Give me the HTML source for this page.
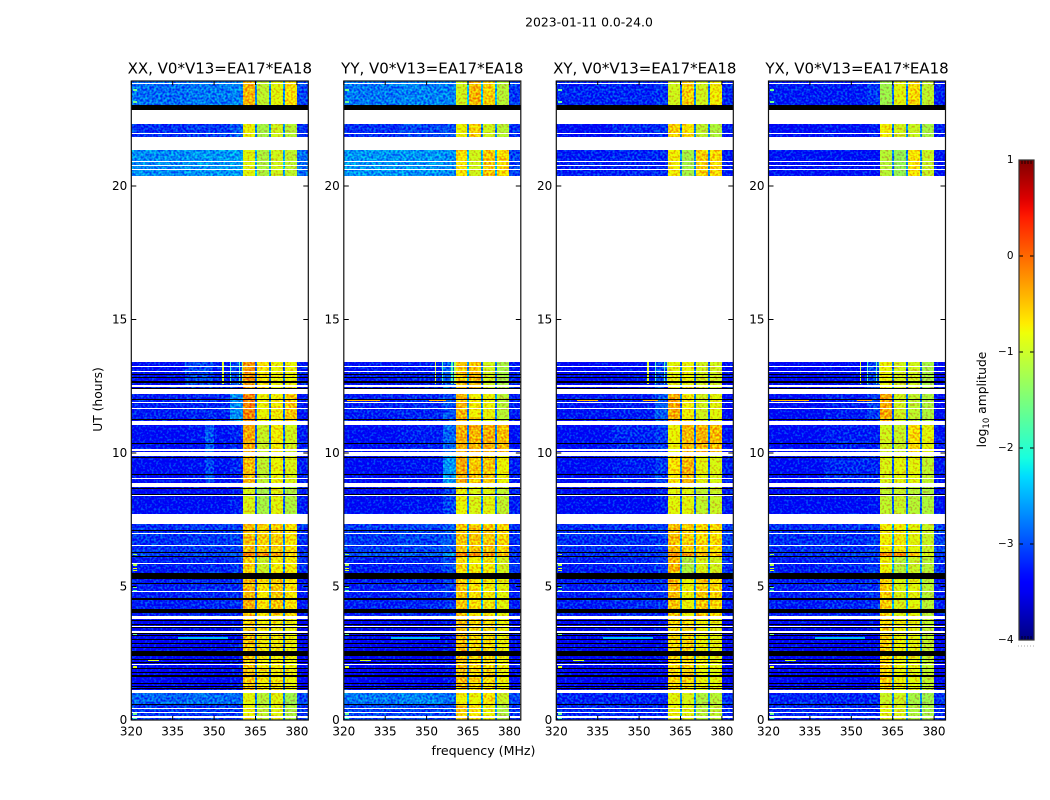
<!DOCTYPE html>
<html>
<head>
<meta charset="utf-8">
<title>2023-01-11 0.0-24.0</title>
<style>
html,body{margin:0;padding:0;background:#fff;width:1050px;height:800px;overflow:hidden}
svg{display:block}
text{font-family:"DejaVu Sans","Liberation Sans",sans-serif;fill:#000}
</style>
</head>
<body>
<svg id="fig" xmlns="http://www.w3.org/2000/svg" width="1050" height="800" viewBox="0 0 1050 800">
  <defs>
    <filter id="speckle" filterUnits="userSpaceOnUse" x="0" y="0" width="1050" height="800" color-interpolation-filters="sRGB">
      <feTurbulence type="fractalNoise" baseFrequency="0.46" numOctaves="1" seed="7" result="n"/>
      <feColorMatrix in="n" type="matrix" values="0 0 0 0 0.5  2.6 0 0 0 -0.8  0 0 0 0 0.5  0 0 0 0 1" result="g"/>
      <feComposite in="SourceGraphic" in2="g" operator="arithmetic" k1="0" k2="1" k3="0.56" k4="-0.32" result="m"/>
      <feComposite in="m" in2="SourceGraphic" operator="in"/>
    </filter>
    <linearGradient id="jet-gradient" x1="0" y1="1" x2="0" y2="0"></linearGradient>
  </defs>
  <text x="589" y="26.5" font-size="12.4" text-anchor="middle">2023-01-11 0.0-24.0</text>
  <text x="0" y="0" font-size="12.3" text-anchor="middle" transform="translate(102,399.5) rotate(-90)">UT (hours)</text>
  <text x="483.5" y="755" font-size="12.6" text-anchor="middle">frequency (MHz)</text>
  <g id="panels"></g>
  <g id="colorbar"></g>
  <text font-size="12.3" text-anchor="middle" transform="translate(986,399.5) rotate(-90)">log<tspan font-size="8.5" dy="3">10</tspan><tspan dy="-3"> amplitude</tspan></text>
</svg>
<script>
// ---- chart data ----
const panelTitles = ["XX, V0*V13=EA17*EA18","YY, V0*V13=EA17*EA18","XY, V0*V13=EA17*EA18","YX, V0*V13=EA17*EA18"];
const freqTicks = [320,335,350,365,380];
const hourTicks = [0,5,10,15,20];
const colorTicks = [1,0,-1,-2,-3,-4];
const colorTickLabels = ["1","0","\u22121","\u22122","\u22123","\u22124"];

// channel-group edges in MHz (11 groups)
const freqEdges = [320,340,355.8,360.5,364.7,365.5,369.8,370.5,374.9,375.6,380,384];

// time blocks: [start hour, end hour, level-row index]
const timeBlocks = [
 [23.03,23.93,0],[21.84,22.32,1],[20.37,21.35,2],[12.39,13.40,3],[11.21,12.21,4],
 [10.05,11.05,5],[8.88,9.89,6],[7.73,8.72,7],[6.27,7.34,8],[6.14,6.27,9],[5.52,6.14,10],
 [3.90,5.29,11],[1.12,3.79,12],[0.55,1.01,13],[0,0.55,14]
];

// log10 amplitude per level row (rows) and channel group (columns)
const levelsXX = [
 [-2.8,-2.75,-2.7,-0.45,-2.7,-1.05,-2.6,-0.85,-2.6,-0.7,-3.0],
 [-3.1,-3.05,-2.9,-0.8,-2.7,-1.2,-2.6,-0.95,-2.6,-1.1,-3.1],
 [-2.65,-2.6,-2.55,-0.85,-2.5,-1.15,-2.5,-0.95,-2.5,-1.05,-2.8],
 [-3.3,-3.2,-3.0,-0.3,-2.9,-0.7,-2.9,-0.8,-2.9,-0.8,-3.2],
 [-3.2,-3.15,-2.65,-0.2,-2.8,-0.8,-2.8,-0.75,-2.8,-0.55,-3.2],
 [-3.3,-3.25,-3.15,-0.4,-2.9,-1.0,-2.8,-0.75,-2.8,-0.95,-3.2],
 [-3.3,-3.25,-3.15,-0.5,-2.9,-1.05,-2.8,-0.8,-2.9,-0.9,-3.2],
 [-3.3,-3.3,-3.2,-0.9,-2.9,-1.2,-2.8,-0.85,-2.9,-1.15,-3.2],
 [-3.1,-3.05,-3.0,-0.5,-2.7,-0.6,-2.7,-0.6,-2.7,-0.7,-3.1],
 [-3.0,-3.0,-2.9,-0.15,-2.7,-0.25,-2.7,-0.35,-2.7,-0.6,-3.1],
 [-3.2,-3.15,-3.05,-0.6,-2.7,-1.0,-2.7,-0.75,-2.7,-0.75,-3.1],
 [-3.2,-3.15,-3.1,-0.45,-2.8,-0.7,-2.6,-0.55,-2.7,-0.7,-3.2],
 [-3.35,-3.35,-3.25,-0.55,-2.8,-0.75,-2.8,-0.75,-2.8,-0.8,-3.4],
 [-2.85,-2.8,-2.8,-0.85,-2.8,-1.1,-2.6,-0.85,-2.7,-1.25,-3.0],
 [-3.05,-3.05,-3.05,-0.8,-2.8,-1.05,-2.7,-0.85,-2.8,-1.15,-3.1]
];
const levelsYY = [
 [-2.75,-2.7,-2.7,-0.95,-2.4,-0.45,-2.4,-0.6,-2.5,-1.1,-3.05],
 [-3.1,-3.0,-2.95,-0.8,-2.7,-0.6,-2.7,-0.95,-2.7,-1.1,-3.1],
 [-2.6,-2.6,-2.65,-0.7,-2.4,-0.95,-2.4,-0.55,-2.4,-0.65,-3.0],
 [-3.25,-3.2,-2.9,-0.55,-2.6,-0.5,-2.8,-0.95,-2.8,-1.2,-3.2],
 [-3.2,-3.15,-2.95,-0.45,-2.7,-0.75,-2.7,-0.8,-2.7,-1.1,-3.2],
 [-3.3,-3.2,-2.85,-0.42,-2.8,-0.45,-2.8,-0.42,-2.8,-0.5,-3.25],
 [-3.3,-3.25,-2.6,-0.4,-2.7,-0.55,-2.7,-0.55,-2.8,-0.8,-3.2],
 [-3.3,-3.25,-3.0,-0.8,-2.7,-0.9,-2.7,-0.85,-2.8,-1.05,-3.2],
 [-3.05,-3.0,-2.9,-0.55,-2.5,-0.55,-2.5,-0.55,-2.6,-0.65,-3.1],
 [-2.95,-2.85,-2.6,-0.15,-2.5,-0.3,-2.5,-0.3,-2.6,-0.55,-3.1],
 [-3.2,-3.15,-3.0,-0.65,-2.5,-0.75,-2.5,-0.75,-2.6,-0.95,-3.1],
 [-3.2,-3.15,-3.05,-0.55,-2.5,-0.7,-2.5,-0.75,-2.6,-0.85,-3.2],
 [-3.35,-3.35,-3.25,-0.5,-2.7,-0.65,-2.7,-0.65,-2.7,-0.8,-3.3],
 [-2.75,-2.7,-2.8,-0.75,-2.5,-0.8,-2.5,-0.7,-2.6,-1.0,-3.0],
 [-3.0,-3.0,-3.0,-0.6,-2.6,-0.7,-2.5,-0.8,-2.6,-1.15,-3.1]
];
const levelsXY = [
 [-3.15,-3.15,-3.1,-0.95,-2.8,-0.6,-2.7,-0.95,-2.7,-0.75,-3.15],
 [-3.3,-3.15,-3.1,-0.6,-2.8,-0.7,-2.7,-1.05,-2.7,-1.15,-3.2],
 [-3.2,-3.15,-3.15,-0.75,-2.7,-1.2,-2.7,-0.6,-2.7,-0.65,-3.2],
 [-3.35,-3.3,-3.0,-0.85,-2.8,-0.8,-2.9,-0.95,-2.9,-0.95,-3.3],
 [-3.25,-3.2,-2.9,-0.4,-2.9,-0.75,-2.8,-0.95,-2.8,-0.85,-3.3],
 [-3.3,-3.15,-3.05,-0.8,-2.9,-0.5,-2.8,-0.45,-2.8,-0.5,-3.25],
 [-3.3,-3.2,-3.05,-0.7,-2.9,-0.45,-2.8,-0.85,-2.9,-0.9,-3.2],
 [-3.3,-3.3,-3.2,-0.85,-2.9,-0.85,-2.8,-1.05,-2.9,-1.0,-3.2],
 [-3.1,-3.1,-3.05,-0.5,-2.6,-0.6,-2.6,-0.65,-2.7,-0.65,-3.0],
 [-3.1,-3.05,-3.0,-0.3,-2.6,-0.3,-2.6,-0.4,-2.7,-0.6,-3.1],
 [-3.2,-3.15,-3.05,-0.45,-2.6,-1.15,-2.6,-0.9,-2.7,-0.95,-3.1],
 [-3.2,-3.15,-3.1,-0.5,-2.6,-0.8,-2.6,-0.55,-2.7,-0.65,-3.2],
 [-3.35,-3.35,-3.3,-0.65,-2.7,-0.65,-2.7,-0.8,-2.7,-0.85,-3.35],
 [-3.15,-3.15,-3.15,-0.85,-2.7,-0.9,-2.6,-1.15,-2.7,-1.1,-3.1],
 [-3.15,-3.15,-3.15,-0.8,-2.7,-0.85,-2.6,-1.1,-2.7,-1.05,-3.15]
];
const levelsYX = [
 [-3.2,-3.2,-3.05,-1.25,-2.8,-0.85,-2.7,-0.65,-2.7,-1.05,-3.2],
 [-3.3,-3.25,-3.2,-0.75,-2.8,-0.95,-2.7,-1.0,-2.7,-1.2,-3.2],
 [-3.25,-3.25,-3.25,-1.1,-2.7,-1.3,-2.7,-0.7,-2.7,-1.0,-3.25],
 [-3.35,-3.3,-3.0,-0.8,-2.8,-0.95,-2.9,-0.95,-2.9,-1.2,-3.3],
 [-3.3,-3.2,-3.05,-0.4,-2.9,-0.95,-2.8,-1.05,-2.8,-1.15,-3.3],
 [-3.3,-3.2,-3.2,-0.95,-2.9,-1.0,-2.8,-0.65,-2.8,-0.85,-3.25],
 [-3.3,-3.15,-3.15,-0.9,-2.9,-0.85,-2.8,-0.85,-2.9,-1.05,-3.25],
 [-3.3,-3.3,-3.25,-1.05,-2.9,-1.0,-2.8,-1.1,-2.9,-1.15,-3.25],
 [-3.1,-3.1,-3.05,-0.75,-2.5,-0.75,-2.5,-0.85,-2.6,-1.0,-3.0],
 [-3.1,-3.05,-3.0,-0.2,-2.5,-0.25,-2.5,-0.55,-2.6,-0.9,-3.1],
 [-3.2,-3.15,-3.05,-0.8,-2.5,-1.1,-2.5,-1.0,-2.6,-1.1,-3.1],
 [-3.2,-3.15,-3.1,-0.6,-2.5,-0.9,-2.5,-0.85,-2.6,-1.1,-3.2],
 [-3.35,-3.35,-3.3,-0.6,-2.7,-0.8,-2.7,-0.85,-2.7,-1.05,-3.35],
 [-3.15,-3.15,-3.1,-1.0,-2.7,-0.95,-2.6,-1.2,-2.7,-1.25,-3.1],
 [-3.15,-3.15,-3.15,-0.85,-2.7,-0.9,-2.6,-1.15,-2.7,-1.2,-3.15]
];
const panelLevels = [levelsXX,levelsYY,levelsXY,levelsYX];

// narrow features in every panel: [freq start, freq end, hour start, hour end, value]
const narrowFeatures = [
 [320.5,322,23.55,23.62,-1.6],[320.5,322,23.12,23.18,-1.6],
 [320.5,322,6.18,6.22,-1.3],[320.5,322,5.78,5.84,-1.2],[320.5,322,5.66,5.7,-0.8],[320.5,322,5.58,5.62,-0.9],
 [320.5,322,4.94,5.0,-1.6],[320.5,322,4.82,4.88,-1.8],[320.5,322,3.18,3.24,-1.6],[320.5,322,1.96,2.02,-0.9],
 [320.5,322,0.2,0.3,-1.6],[320.5,322,0.05,0.12,-1.9],
 [337,355,3.05,3.09,-2.45],[326,330,2.2,2.24,-1.0],
 [353,353.5,12.6,13.4,-0.9],[355.6,356.1,12.6,13.4,-1.8],[359,359.4,12.6,13.4,-1.8],[360,360.5,12.6,13.4,-1.2]
];
// features seen in one panel: [panel, freq start, freq end, hour start, hour end, value]
const panelFeatures = [
 [0,339.5,349.6,12.39,13.40,-3.0],[0,346.7,350,10.05,11.05,-2.9],[0,346.7,350,8.88,9.89,-3.0],
 [1,321,333,11.93,11.97,-0.4],[1,351,357,11.93,11.97,-0.4],
 [2,327.5,335,11.93,11.97,-0.4],[2,351.5,357,11.93,11.97,-0.4],
 [3,321,334.5,11.93,11.97,-0.4],[3,352,357.5,11.93,11.97,-0.3]
];

// 1px white lines (hours) inside recorded blocks
const whiteLines = [23.85,21.97,20.94,20.79,20.64,13.27,13.06,12.56,12.51,11.92,11.70,10.15,10.10,9.05,8.43,7.00,6.57,5.87,4.83,3.52,3.34,3.30,2.09,0.46,0.31,0.16,0.11];
// bad-data rows drawn black
const flagLines = [12.95,12.85,12.71,12.65,12.45,12.01,11.26,10.36,9.86,9.20,8.70,8.48,7.12,6.31,6.14,5.12,4.84,4.53,3.75,3.60,3.47,3.25,3.18,3.02,2.90,2.72,2.27,2.18,1.94,1.81,1.37,1.27,1.19,0.61];
const flagBands = [[22.86,23.03],[5.29,5.52],[4.50,4.58],[4.02,4.17],[2.41,2.60],[1.60,1.68]];

// ---- scales and helpers ----
const NS = "http://www.w3.org/2000/svg";
const panelLeft = [131.3,343.8,556.3,768.5];
const plotW = 177, yBottom = 720, pxPerHour = 26.7, pxPerMHz = 2.76, yTop = 81;
function xScale(p,f){return panelLeft[p]+(f-320)*pxPerMHz;}
function yScale(h){return yBottom-h*pxPerHour;}
function jet(v){
  const t=Math.max(0,Math.min(1,(v+4)/5));
  function ramp(pts){
    for(let i=1;i<pts.length;i++){
      if(t<=pts[i][0]){const a=pts[i-1],b=pts[i];return a[1]+(b[1]-a[1])*(t-a[0])/((b[0]-a[0])||1);}
    }
    return pts[pts.length-1][1];
  }
  const r=ramp([[0,0],[.35,0],[.66,1],[.89,1],[1,.5]]);
  const g=ramp([[0,0],[.125,0],[.375,1],[.64,1],[.91,0],[1,0]]);
  const b=ramp([[0,.5],[.11,1],[.34,1],[.65,0],[1,0]]);
  return "rgb("+Math.round(r*255)+","+Math.round(g*255)+","+Math.round(b*255)+")";
}
function make(parent,tag,attrs){
  const el=document.createElementNS(NS,tag);
  for(const k in attrs){el.setAttribute(k,attrs[k]);}
  parent.appendChild(el);
  return el;
}
function drawFeature(group,p,f0,f1,h0,h1,v){
  const x0=Math.round(xScale(p,f0)),x1=Math.round(xScale(p,f1));
  const y0=Math.round(yScale(h1)),y1=Math.round(yScale(h0));
  return make(group,"rect",{x:x0,y:y0,width:Math.max(1,x1-x0),height:Math.max(1,y1-y0),fill:jet(v)});
}
const panelsRoot=document.getElementById("panels");

panelTitles.forEach(function(title,p){
  const g=make(panelsRoot,"g",{});
  
  

  const cells=make(g,"g",{filter:"url(#speckle)","shape-rendering":"crispEdges"});
  
  
  timeBlocks.forEach(function(b){
    const row=panelLevels[p][b[2]];
    row.forEach(function(v,c){
      const x0=Math.round(xScale(p,freqEdges[c])),x1=Math.round(xScale(p,freqEdges[c+1]));
      const y0=Math.round(yScale(b[1])),y1=Math.round(yScale(b[0]));
      const r=make(cells,"rect",{x:x0,y:y0,width:x1-x0,height:y1-y0,fill:jet(v)});
      
      
    });
  });
  panelFeatures.forEach(function(n){
    if(n[0]!==p||n[4]-n[3]<0.2){return;}
    const r=drawFeature(cells,p,n[1],n[2],n[3],n[4],n[5]);
    
    
  });

  const overlay=make(g,"g",{"shape-rendering":"crispEdges"});
  
  
  narrowFeatures.forEach(function(n){
    const r=drawFeature(overlay,p,n[0],n[1],n[2],n[3],n[4]);
    
    
  });
  panelFeatures.forEach(function(n){
    if(n[0]!==p||n[4]-n[3]>=0.2){return;}
    const r=drawFeature(overlay,p,n[1],n[2],n[3],n[4],n[5]);
    
    
  });
  flagBands.forEach(function(b){
    const y0=Math.round(yScale(b[1])),y1=Math.round(yScale(b[0]));
    const r=make(overlay,"rect",{x:panelLeft[p],y:y0,width:plotW,height:y1-y0,fill:"#000"});
    
    
  });
  flagLines.forEach(function(h){
    const r=make(overlay,"rect",{x:panelLeft[p],y:Math.round(yScale(h)),width:plotW,height:1,fill:"#000"});
    
    
  });
  whiteLines.forEach(function(h){
    const r=make(overlay,"rect",{x:panelLeft[p],y:Math.round(yScale(h)),width:plotW,height:1,fill:"#fff"});
    
    
  });

  const frame=make(g,"rect",{x:panelLeft[p],y:yTop,width:plotW,height:yBottom-yTop,fill:"none",stroke:"#111","stroke-width":1.2});
  
  

  const t=make(g,"text",{x:panelLeft[p]+plotW/2,y:73.5,"font-size":15,"text-anchor":"middle"});
  t.textContent=title;
  
  

  freqTicks.forEach(function(f){
    const x=xScale(p,f);
    const a=make(g,"line",{x1:x,x2:x,y1:yBottom,y2:yBottom-4,stroke:"#000","stroke-width":1});
    
    
    const b=make(g,"line",{x1:x,x2:x,y1:yTop,y2:yTop+4,stroke:"#000","stroke-width":1});
    
    
    const l=make(g,"text",{x:x,y:735.5,"font-size":12,"text-anchor":"middle"});
    l.textContent=String(f);
    
    
  });
  hourTicks.forEach(function(h){
    const y=yScale(h);
    const a=make(g,"line",{x1:panelLeft[p],x2:panelLeft[p]+5,y1:y,y2:y,stroke:"#000","stroke-width":1});
    
    
    const b=make(g,"line",{x1:panelLeft[p]+plotW,x2:panelLeft[p]+plotW-5,y1:y,y2:y,stroke:"#000","stroke-width":1});
    
    
    const l=make(g,"text",{x:panelLeft[p]-4,y:y+4,"font-size":12,"text-anchor":"end"});
    l.textContent=String(h);
    
    
  });
});

// ---- colorbar ----
const grad=document.getElementById("jet-gradient");
for(let i=0;i<=50;i++){
  make(grad,"stop",{offset:(i/50),"stop-color":jet(-4+i/10)});
}
const cb=document.getElementById("colorbar");
const cbX=1019,cbW=15,cbTop=160,cbBottom=640;
function cbY(v){return cbBottom-(v+4)*(cbBottom-cbTop)/5;}
const bar=make(cb,"rect",{x:cbX,y:cbTop,width:cbW,height:cbBottom-cbTop,fill:"url(#jet-gradient)"});


for(let i=0;i<6;i++){
  const x=cbX+i*3;
  const a=make(cb,"line",{x1:x,x2:x,y1:cbTop,y2:cbTop+4,stroke:"#000","stroke-width":0.8});
  
  
  const b=make(cb,"line",{x1:x,x2:x,y1:cbBottom,y2:cbBottom-4,stroke:"#000","stroke-width":0.8});
  
  
  const d=make(cb,"rect",{x:x-1,y:645.5,width:1,height:1,fill:"#aaa"});
  
  
}
colorTicks.forEach(function(v,i){
  const y=cbY(v);
  const a=make(cb,"line",{x1:cbX,x2:cbX+4,y1:y,y2:y,stroke:"#000","stroke-width":1});
  
  
  const b=make(cb,"line",{x1:cbX+cbW,x2:cbX+cbW-4,y1:y,y2:y,stroke:"#000","stroke-width":1});
  
  
  const l=make(cb,"text",{x:1013.5,y:y+3,"font-size":10.5,"text-anchor":"end"});
  l.textContent=colorTickLabels[i];
  
  
});
const cbFrame=make(cb,"rect",{x:cbX,y:cbTop,width:cbW,height:cbBottom-cbTop,fill:"none",stroke:"#333","stroke-width":1.2});


</script>
</body>
</html>
